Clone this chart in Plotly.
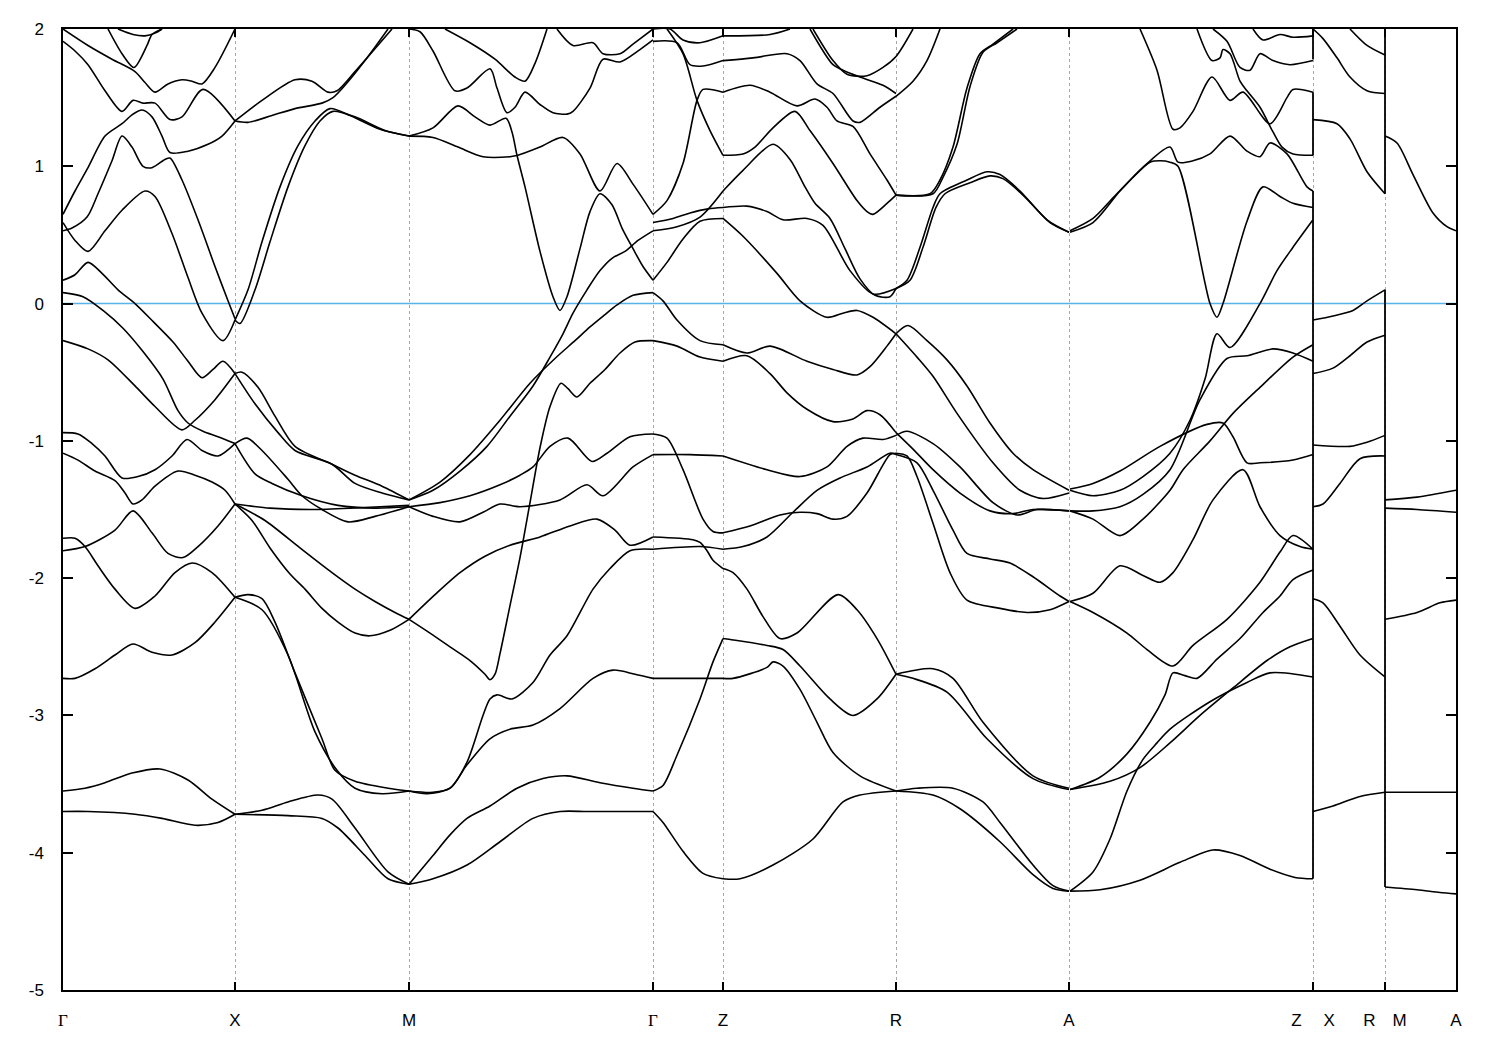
import plotly.graph_objects as go

# High-symmetry k positions (path distance, arbitrary units) and labels
hs_k = [0, 172, 346, 590, 660, 833, 1006, 1250, 1322, 1393]
hs_labels = ["<span style='font-family:Liberation Serif'>Γ</span>", "X", "M",
             "<span style='font-family:Liberation Serif'>Γ</span>", "Z", "R", "A",
             "Z\u2003\u00a0X", "R\u2003M", "A"]
e_ticks = [2, 1, 0, -1, -2, -3, -4, -5]
e_tick_text = ["2", "1", "0", "-1", "-2", "-3", "-4", "-5"]
fermi = 0.0

# Bands, per path segment: each curve is a list of [k, E (eV)]
seg_GX = [
    [[0,2.0],[25,1.88],[49,1.78],[72,1.69],[82,1.61],[92,1.54],[105,1.60],[119,1.63],[129,1.62],[139,1.60],[152,1.72],[172,2.0]],
    [[0,1.91],[12,1.84],[25,1.74],[42,1.55],[59,1.40],[70,1.48],[80,1.46],[92,1.46],[107,1.34],[119,1.36],[140,1.56],[172,1.33]],
    [[45,2.0],[59,1.82],[71,1.72],[84,1.88],[89,1.96],[99,2.0]],
    [[55,2.0],[70,1.96],[82,1.95],[92,1.97],[99,2.0]],
    [[0,0.65],[12,0.82],[25,0.99],[42,1.22],[59,1.31],[70,1.38],[79,1.41],[89,1.36],[99,1.22],[107,1.10],[125,1.11],[145,1.16],[159,1.22],[172,1.33]],
    [[0,0.53],[9,0.55],[24,0.63],[35,0.80],[49,1.04],[59,1.22],[69,1.14],[80,1.0],[89,0.99],[102,1.05],[107,1.06],[119,0.90],[135,0.61],[152,0.27],[165,0.02],[172,-0.11]],
    [[0,0.59],[12,0.46],[25,0.38],[42,0.53],[59,0.68],[82,0.82],[92,0.78],[109,0.51],[125,0.19],[139,-0.07],[160,-0.27],[172,-0.12]],
    [[0,0.17],[12,0.21],[25,0.30],[39,0.22],[55,0.10],[72,0.0],[90,-0.13],[110,-0.28],[125,-0.42],[139,-0.54],[150,-0.48],[160,-0.42],[172,-0.51]],
    [[0,0.08],[20,0.05],[40,-0.05],[60,-0.18],[80,-0.35],[100,-0.55],[115,-0.78],[125,-0.87],[140,-0.93],[155,-0.97],[172,-1.02]],
    [[0,-0.27],[25,-0.33],[45,-0.41],[72,-0.60],[92,-0.75],[119,-0.92],[132,-0.85],[152,-0.70],[172,-0.51]],
    [[0,-0.94],[15,-0.95],[29,-1.02],[42,-1.11],[59,-1.27],[75,-1.26],[92,-1.21],[109,-1.11],[124,-0.99],[139,-1.07],[155,-1.11],[172,-1.02]],
    [[0,-1.09],[15,-1.14],[32,-1.22],[52,-1.29],[62,-1.38],[70,-1.46],[79,-1.43],[92,-1.33],[115,-1.22],[132,-1.25],[149,-1.30],[162,-1.36],[172,-1.46]],
    [[0,-1.71],[12,-1.71],[22,-1.77],[35,-1.91],[52,-2.08],[72,-2.22],[92,-2.13],[112,-1.96],[129,-1.89],[149,-1.96],[172,-2.14]],
    [[0,-1.80],[22,-1.77],[52,-1.65],[70,-1.51],[89,-1.67],[105,-1.82],[120,-1.85],[135,-1.77],[155,-1.62],[172,-1.46]],
    [[0,-2.73],[12,-2.73],[32,-2.66],[52,-2.56],[70,-2.48],[89,-2.54],[109,-2.56],[132,-2.47],[152,-2.32],[172,-2.14]],
    [[0,-3.55],[22,-3.53],[42,-3.49],[69,-3.42],[97,-3.39],[125,-3.47],[149,-3.61],[172,-3.72]],
    [[0,-3.70],[25,-3.70],[72,-3.72],[99,-3.75],[132,-3.80],[155,-3.78],[172,-3.72]],
]

seg_XM = [
    [[172,1.33],[185,1.32],[209,1.37],[232,1.42],[259,1.46],[270,1.50],[282,1.59],[302,1.77],[325,2.0]],
    [[172,1.33],[199,1.48],[232,1.63],[249,1.62],[265,1.54],[274,1.55],[292,1.69],[329,2.0]],
    [[172,-0.12],[185,0.10],[199,0.45],[217,0.85],[235,1.15],[252,1.33],[267,1.42],[287,1.37],[317,1.27],[346,1.22]],
    [[172,-0.12],[177,-0.145],[192,0.10],[207,0.45],[225,0.85],[242,1.15],[257,1.33],[270,1.40],[292,1.36],[322,1.26],[346,1.22]],
    [[172,-0.51],[179,-0.50],[195,-0.61],[212,-0.82],[232,-1.04],[269,-1.17],[292,-1.25],[319,-1.33],[346,-1.43]],
    [[172,-0.51],[192,-0.73],[215,-0.94],[232,-1.07],[269,-1.17],[292,-1.31],[319,-1.38],[346,-1.43]],
    [[172,-1.02],[184,-0.98],[199,-1.07],[225,-1.28],[239,-1.40],[259,-1.50],[285,-1.59],[312,-1.55],[346,-1.48]],
    [[172,-1.02],[192,-1.24],[209,-1.31],[239,-1.40],[275,-1.47],[312,-1.49],[346,-1.48]],
    [[172,-1.46],[207,-1.49],[247,-1.50],[287,-1.49],[317,-1.48],[346,-1.47]],
    [[172,-1.46],[189,-1.58],[207,-1.78],[227,-1.97],[242,-2.08],[259,-2.22],[275,-2.32],[292,-2.40],[307,-2.42],[327,-2.38],[346,-2.30]],
    [[172,-1.46],[202,-1.58],[237,-1.78],[269,-1.96],[292,-2.08],[312,-2.17],[332,-2.25],[346,-2.30]],
    [[172,-2.14],[185,-2.12],[199,-2.15],[212,-2.32],[232,-2.69],[259,-3.17],[272,-3.40],[292,-3.48],[325,-3.53],[346,-3.55]],
    [[172,-2.14],[199,-2.23],[225,-2.56],[252,-3.12],[274,-3.40],[292,-3.53],[319,-3.57],[346,-3.55]],
    [[172,-3.72],[199,-3.69],[225,-3.63],[255,-3.58],[269,-3.61],[292,-3.82],[325,-4.14],[346,-4.23]],
    [[172,-3.72],[225,-3.73],[259,-3.75],[275,-3.82],[302,-4.02],[325,-4.19],[346,-4.23]],
]

seg_MG = [
    [[346,2.0],[357,1.98],[370,1.84],[392,1.55],[404,1.57],[427,1.71],[434,1.57],[444,1.39],[452,1.43],[462,1.54],[477,1.45],[490,1.39],[504,1.38],[510,1.40],[527,1.57],[540,1.78],[557,1.76],[577,1.85],[590,1.92]],
    [[382,2.0],[407,1.9],[432,1.78],[452,1.65],[462,1.62],[472,1.75],[484,2.0]],
    [[494,2.0],[510,1.88],[530,1.90],[540,1.82],[557,1.82],[570,1.89],[590,2.0]],
    [[346,1.22],[370,1.28],[395,1.44],[412,1.36],[427,1.30],[443,1.35],[449,1.25],[454,1.08],[462,0.85],[477,0.38],[490,0.05],[497,-0.05],[504,0.05],[517,0.40],[527,0.67],[537,0.80],[549,0.72],[559,0.55],[570,0.40],[580,0.27],[590,0.17]],
    [[346,1.22],[370,1.21],[395,1.14],[420,1.07],[447,1.07],[455,1.08],[477,1.14],[500,1.21],[517,1.09],[537,0.82],[554,1.02],[570,0.87],[590,0.65]],
    [[346,-1.43],[370,-1.36],[397,-1.22],[424,-1.04],[447,-0.82],[470,-0.60],[487,-0.39],[500,-0.22],[510,-0.07],[524,0.10],[537,0.24],[549,0.33],[562,0.38],[575,0.46],[590,0.53]],
    [[346,-1.43],[377,-1.30],[407,-1.10],[437,-0.85],[467,-0.58],[492,-0.40],[512,-0.27],[527,-0.17],[542,-0.08],[554,-0.01],[570,0.06],[590,0.08]],
    [[346,-2.30],[367,-2.40],[387,-2.50],[407,-2.60],[422,-2.70],[427,-2.74],[432,-2.70],[437,-2.55],[447,-2.20],[457,-1.85],[467,-1.45],[477,-1.05],[487,-0.75],[498,-0.58],[505,-0.62],[514,-0.68],[527,-0.58],[542,-0.48],[557,-0.36],[572,-0.28],[590,-0.27]],
    [[346,-1.48],[377,-1.45],[407,-1.40],[437,-1.32],[457,-1.25],[470,-1.19],[487,-1.04],[505,-0.98],[529,-1.15],[544,-1.09],[567,-0.97],[590,-0.95]],
    [[346,-1.48],[370,-1.55],[397,-1.59],[420,-1.52],[437,-1.46],[457,-1.48],[497,-1.43],[524,-1.32],[540,-1.40],[570,-1.19],[590,-1.10]],
    [[346,-2.30],[372,-2.12],[397,-1.96],[422,-1.84],[447,-1.76],[477,-1.70],[507,-1.62],[534,-1.57],[552,-1.65],[567,-1.76],[590,-1.70]],
    [[346,-3.55],[370,-3.56],[387,-3.53],[404,-3.34],[420,-3.00],[427,-2.88],[434,-2.85],[449,-2.88],[470,-2.76],[487,-2.56],[504,-2.42],[530,-2.08],[547,-1.93],[567,-1.80],[590,-1.79]],
    [[346,-3.55],[364,-3.57],[387,-3.53],[404,-3.36],[427,-3.17],[447,-3.10],[470,-3.07],[497,-2.95],[530,-2.73],[550,-2.67],[572,-2.70],[590,-2.73]],
    [[346,-4.23],[370,-4.19],[404,-4.09],[437,-3.92],[470,-3.75],[497,-3.70],[524,-3.70],[550,-3.70],[590,-3.70]],
    [[346,-4.23],[370,-4.02],[387,-3.87],[404,-3.75],[427,-3.66],[454,-3.53],[480,-3.46],[504,-3.44],[537,-3.49],[570,-3.53],[590,-3.55]],
]

seg_GZ = [
    [[590,2.0],[607,2.0],[620,1.92],[637,1.90],[660,1.95]],
    [[590,1.91],[614,1.90],[627,1.74],[640,1.73],[660,1.77]],
    [[590,0.65],[604,0.75],[620,1.02],[634,1.48],[640,1.56],[660,1.54]],
    [[604,2.0],[620,1.82],[634,1.48],[647,1.26],[660,1.08]],
    [[590,0.59],[610,0.62],[627,0.66],[645,0.69],[660,0.70]],
    [[590,0.53],[614,0.56],[637,0.63],[660,0.82]],
    [[590,0.17],[604,0.30],[620,0.47],[637,0.60],[660,0.62]],
    [[590,0.08],[600,0.02],[614,-0.12],[637,-0.27],[660,-0.30]],
    [[590,-0.27],[614,-0.31],[637,-0.39],[660,-0.42]],
    [[590,-0.95],[604,-0.98],[620,-1.21],[640,-1.57],[650,-1.66],[660,-1.67]],
    [[590,-1.10],[627,-1.10],[660,-1.11]],
    [[590,-1.70],[630,-1.72],[637,-1.74],[644,-1.80],[650,-1.87],[660,-1.93]],
    [[590,-1.79],[637,-1.77],[660,-1.79]],
    [[590,-2.73],[660,-2.73]],
    [[590,-3.55],[600,-3.51],[614,-3.29],[637,-2.88],[650,-2.61],[660,-2.44]],
    [[590,-3.70],[600,-3.78],[620,-3.99],[640,-4.15],[660,-4.19]],
]

seg_ZR = [
    [[660,1.95],[707,1.96],[727,2.0]],
    [[750,2.0],[770,1.77],[784,1.67],[804,1.66],[820,1.72],[833,1.80],[850,2.0]],
    [[747,2.0],[770,1.74],[780,1.70],[797,1.65],[820,1.59],[833,1.53]],
    [[660,1.77],[690,1.79],[724,1.82],[737,1.77],[754,1.60],[770,1.53],[790,1.33],[797,1.32],[817,1.43],[833,1.51]],
    [[660,1.54],[687,1.59],[707,1.54],[734,1.44],[752,1.49],[764,1.43],[774,1.33],[790,1.29],[807,1.09],[824,0.90],[833,0.79]],
    [[660,1.08],[680,1.09],[692,1.14],[710,1.28],[732,1.40],[747,1.26],[770,1.02],[794,0.75],[804,0.67],[810,0.65],[824,0.73],[833,0.79]],
    [[660,0.82],[680,0.97],[710,1.16],[727,1.05],[742,0.85],[752,0.73],[767,0.62],[782,0.40],[797,0.18],[812,0.06],[827,0.05],[833,0.11]],
    [[660,0.70],[684,0.71],[704,0.67],[720,0.61],[744,0.62],[760,0.57],[787,0.24],[810,0.07],[833,0.11]],
    [[660,0.62],[680,0.49],[714,0.22],[737,0.02],[764,-0.10],[780,-0.07],[794,-0.05],[810,-0.10],[833,-0.22]],
    [[660,-0.30],[684,-0.36],[707,-0.31],[744,-0.42],[770,-0.48],[794,-0.52],[807,-0.46],[824,-0.31],[833,-0.22]],
    [[660,-0.42],[684,-0.38],[707,-0.51],[724,-0.65],[744,-0.77],[770,-0.86],[790,-0.84],[804,-0.78],[817,-0.81],[833,-0.94]],
    [[660,-1.11],[704,-1.21],[737,-1.26],[764,-1.19],[784,-1.04],[800,-0.98],[820,-0.99],[833,-0.96]],
    [[660,-1.67],[687,-1.62],[717,-1.54],[737,-1.52],[754,-1.53],[770,-1.57],[784,-1.55],[804,-1.38],[827,-1.10],[833,-1.09]],
    [[660,-1.79],[680,-1.77],[704,-1.70],[730,-1.52],[754,-1.36],[777,-1.27],[804,-1.19],[827,-1.09],[833,-1.10]],
    [[660,-1.93],[670,-1.96],[684,-2.08],[700,-2.28],[717,-2.44],[734,-2.40],[775,-2.12],[794,-2.23],[814,-2.44],[833,-2.70]],
    [[660,-2.44],[670,-2.45],[704,-2.49],[720,-2.52],[737,-2.64],[767,-2.88],[790,-3.00],[814,-2.88],[833,-2.70]],
    [[660,-2.73],[670,-2.73],[704,-2.65],[710,-2.61],[720,-2.64],[737,-2.81],[754,-3.05],[770,-3.27],[797,-3.44],[833,-3.55]],
    [[660,-4.19],[677,-4.19],[710,-4.09],[750,-3.90],[780,-3.63],[797,-3.58],[833,-3.55]],
]

seg_RA = [
    [[833,0.79],[867,0.80],[877,0.90],[890,1.14],[904,1.57],[917,1.82],[930,1.89],[950,2.0]],
    [[833,0.79],[870,0.80],[880,0.92],[894,1.16],[907,1.58],[920,1.83],[934,1.90],[954,2.0]],
    [[833,0.11],[844,0.17],[857,0.41],[870,0.70],[877,0.80],[904,0.90],[924,0.96],[937,0.94],[957,0.82],[984,0.61],[1006,0.52]],
    [[833,0.11],[847,0.17],[860,0.41],[873,0.70],[882,0.80],[907,0.88],[927,0.93],[940,0.91],[960,0.79],[987,0.59],[1006,0.52]],
    [[833,1.51],[850,1.62],[864,1.77],[877,2.0]],
    [[833,-0.22],[854,-0.39],[870,-0.53],[894,-0.80],[930,-1.16],[957,-1.36],[980,-1.42],[1006,-1.38]],
    [[833,-0.22],[845,-0.16],[864,-0.27],[884,-0.41],[904,-0.60],[927,-0.87],[950,-1.09],[970,-1.21],[1006,-1.36]],
    [[833,-0.94],[850,-1.06],[870,-1.21],[897,-1.38],[927,-1.51],[950,-1.53],[970,-1.50],[1006,-1.51]],
    [[833,-0.96],[844,-0.93],[870,-1.02],[897,-1.19],[930,-1.45],[954,-1.54],[974,-1.50],[1006,-1.51]],
    [[833,-1.09],[844,-1.11],[854,-1.26],[870,-1.60],[887,-1.96],[904,-2.16],[937,-2.22],[964,-2.25],[987,-2.23],[1006,-2.17]],
    [[833,-1.10],[854,-1.16],[870,-1.36],[890,-1.65],[904,-1.82],[927,-1.86],[947,-1.89],[970,-1.99],[997,-2.13],[1006,-2.17]],
    [[833,-2.70],[870,-2.66],[890,-2.73],[920,-3.05],[970,-3.44],[1006,-3.53]],
    [[833,-2.70],[850,-2.73],[884,-2.83],[924,-3.17],[970,-3.46],[1006,-3.54]],
    [[833,-3.55],[854,-3.53],[890,-3.53],[920,-3.63],[937,-3.78],[970,-4.09],[990,-4.24],[1006,-4.28]],
    [[833,-3.55],[870,-3.58],[897,-3.68],[937,-3.92],[970,-4.16],[990,-4.26],[1006,-4.28]],
]

seg_AZ = [
    [[1077,2.0],[1094,1.70],[1110,1.27],[1117,1.28],[1130,1.40],[1149,1.65],[1167,1.48],[1180,1.54],[1207,1.31],[1224,1.50],[1230,1.56],[1250,1.54]],
    [[1134,2.0],[1149,1.77],[1157,1.79],[1160,1.85],[1167,1.82],[1177,1.62],[1184,1.55],[1197,1.43],[1210,1.25],[1219,1.14],[1230,1.09],[1250,1.08]],
    [[1150,2.0],[1164,1.91],[1177,1.72],[1187,1.70],[1197,1.82],[1210,1.77],[1227,1.74],[1250,1.77]],
    [[1190,2.0],[1200,1.92],[1217,1.96],[1230,1.94],[1250,1.95]],
    [[1007,0.53],[1030,0.62],[1050,0.77],[1070,0.92],[1087,1.03],[1097,1.04],[1107,1.03],[1115,1.00],[1147,0.0],[1154,-0.10],[1160,0.00],[1184,0.60],[1200,0.85],[1217,0.78],[1230,0.73],[1250,0.70]],
    [[1007,0.52],[1030,0.59],[1057,0.82],[1084,1.02],[1107,1.14],[1115,1.03],[1130,1.04],[1147,1.09],[1167,1.22],[1184,1.11],[1197,1.07],[1207,1.17],[1224,1.09],[1244,0.85],[1250,0.82]],
    [[1007,-1.36],[1030,-1.40],[1057,-1.36],[1080,-1.26],[1107,-1.09],[1127,-0.85],[1142,-0.55],[1154,-0.22],[1167,-0.32],[1197,0.0],[1214,0.24],[1230,0.41],[1250,0.61]],
    [[1007,-1.35],[1030,-1.31],[1057,-1.22],[1097,-1.04],[1144,-0.88],[1160,-0.87],[1170,-0.97],[1184,-1.16],[1197,-1.16],[1230,-1.14],[1250,-1.10]],
    [[1007,-1.51],[1030,-1.51],[1057,-1.48],[1080,-1.39],[1107,-1.21],[1137,-0.70],[1164,-0.40],[1184,-0.38],[1210,-0.33],[1230,-0.36],[1250,-0.42]],
    [[1007,-1.51],[1030,-1.57],[1057,-1.69],[1080,-1.57],[1107,-1.36],[1120,-1.21],[1147,-1.00],[1170,-0.80],[1197,-0.61],[1230,-0.39],[1250,-0.30]],
    [[1007,-2.17],[1030,-2.25],[1064,-2.40],[1084,-2.52],[1110,-2.64],[1130,-2.49],[1164,-2.30],[1197,-2.03],[1217,-1.81],[1230,-1.69],[1250,-1.79]],
    [[1007,-2.17],[1030,-2.11],[1057,-1.91],[1080,-1.98],[1097,-2.03],[1110,-1.96],[1130,-1.72],[1150,-1.43],[1180,-1.21],[1197,-1.48],[1217,-1.69],[1237,-1.77],[1250,-1.79]],
    [[1007,-3.54],[1037,-3.45],[1064,-3.28],[1087,-3.05],[1102,-2.85],[1110,-2.69],[1122,-2.71],[1134,-2.73],[1154,-2.59],[1177,-2.44],[1200,-2.25],[1217,-2.13],[1230,-2.01],[1250,-1.94]],
    [[1007,-3.54],[1047,-3.48],[1077,-3.38],[1107,-3.20],[1137,-3.00],[1170,-2.80],[1204,-2.60],[1227,-2.50],[1250,-2.44]],
    [[1007,-4.28],[1030,-4.14],[1047,-3.90],[1064,-3.55],[1080,-3.32],[1094,-3.20],[1107,-3.10],[1147,-2.90],[1184,-2.76],[1207,-2.69],[1250,-2.72]],
    [[1007,-4.28],[1037,-4.27],[1077,-4.20],[1117,-4.07],[1150,-3.98],[1177,-4.02],[1207,-4.12],[1232,-4.18],[1250,-4.19]],
]

seg_XR = [
    [[1250,2.0],[1260,1.93],[1274,1.79],[1287,1.65],[1304,1.55],[1322,1.53]],
    [[1287,2.0],[1304,1.88],[1322,1.81]],
    [[1250,1.34],[1274,1.31],[1287,1.20],[1304,0.96],[1322,0.80]],
    [[1250,-0.12],[1270,-0.09],[1290,-0.05],[1304,0.02],[1322,0.10]],
    [[1250,-0.51],[1270,-0.47],[1287,-0.38],[1304,-0.28],[1322,-0.23]],
    [[1250,-1.03],[1287,-1.04],[1304,-1.01],[1322,-0.96]],
    [[1250,-1.48],[1260,-1.46],[1277,-1.31],[1297,-1.13],[1322,-1.11]],
    [[1250,-2.15],[1260,-2.18],[1277,-2.35],[1297,-2.56],[1322,-2.72]],
    [[1250,-3.70],[1270,-3.66],[1297,-3.59],[1322,-3.56]],
]

seg_MA = [
    [[1322,1.22],[1334,1.17],[1350,0.94],[1370,0.66],[1384,0.56],[1393,0.53]],
    [[1322,-1.43],[1354,-1.41],[1393,-1.36]],
    [[1322,-1.49],[1354,-1.50],[1393,-1.52]],
    [[1322,-2.30],[1354,-2.25],[1377,-2.18],[1393,-2.16]],
    [[1322,-3.56],[1393,-3.56]],
    [[1322,-4.25],[1354,-4.27],[1377,-4.29],[1393,-4.30]],
]

# Band connections drawn at the path breaks Z|X and R|M: [k, E_from, E_to]
jumps = [
    [1250, 2.0, 1.78], [1250, 1.54, 1.08], [1250, 0.82, -4.19],
    [1322, 2.0, 0.80], [1322, 0.10, -4.25],
]

fig = go.Figure()

# Fermi level
fig.add_trace(go.Scatter(x=[hs_k[0], hs_k[-1]], y=[fermi, fermi], mode="lines",
                         line=dict(color="#56B4E9", width=1.5), hoverinfo="skip", showlegend=False))

def add_segment(curves):
    xs, ys = [], []
    for c in curves:
        for k, e in c:
            xs.append(k)
            ys.append(e)
        xs.append(None)
        ys.append(None)
    fig.add_trace(go.Scatter(x=xs, y=ys, mode="lines",
                             line=dict(color="black", width=1.6, shape="spline", smoothing=0.8),
                             hoverinfo="skip", showlegend=False))

for seg in [seg_GX, seg_XM, seg_MG, seg_GZ, seg_ZR, seg_RA, seg_AZ, seg_XR, seg_MA]:
    add_segment(seg)

jx, jy = [], []
for k, e0, e1 in jumps:
    jx += [k, k, None]
    jy += [e0, e1, None]
fig.add_trace(go.Scatter(x=jx, y=jy, mode="lines", line=dict(color="black", width=1.8),
                         hoverinfo="skip", showlegend=False))

# The page body adds an 8 px margin, so the figure is sized to fit the window.
fig.update_layout(
    width=1484, height=1034,
    margin=dict(l=55, r=36, t=20, b=50),
    plot_bgcolor="white", paper_bgcolor="white",
    font=dict(family="Liberation Sans, Arial, sans-serif", size=17, color="black"),
    showlegend=False,
)
fig.update_xaxes(
    range=[hs_k[0], hs_k[-1]], tickmode="array", tickvals=hs_k, ticktext=hs_labels,
    showgrid=True, gridcolor="#a8a8a8", griddash="dot", gridwidth=1,
    showline=True, linecolor="black", linewidth=1.5, mirror="ticks",
    ticks="inside", ticklen=8, tickwidth=1.5, tickcolor="black",
    zeroline=False, ticklabelstandoff=14,
)
fig.update_yaxes(
    range=[-5, 2], tickmode="array", tickvals=e_ticks, ticktext=e_tick_text,
    showgrid=False, showline=True, linecolor="black", linewidth=1.5, mirror="ticks",
    ticks="inside", ticklen=10, tickwidth=1.5, tickcolor="black",
    zeroline=False, ticklabelstandoff=14,
)

fig.write_html("out.html")
